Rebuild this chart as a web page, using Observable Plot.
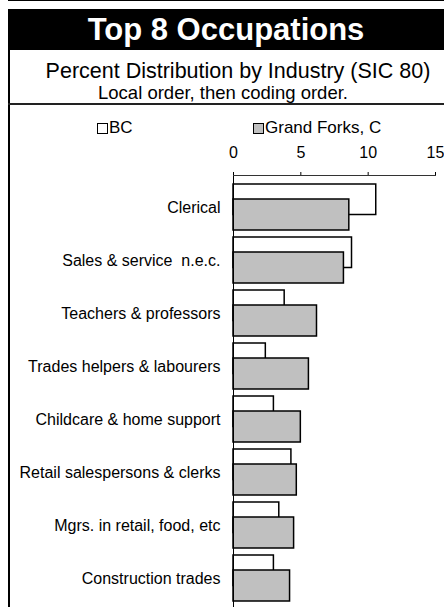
<!DOCTYPE html>
<html>
<head>
<meta charset="utf-8">
<script src="https://cdn.jsdelivr.net/npm/d3@7"></script>
<script src="https://cdn.jsdelivr.net/npm/@observablehq/plot@0.6"></script>
<style>
  html, body { margin: 0; padding: 0; background: #fff; }
  #wrap { position: relative; width: 444px; height: 607px; overflow: hidden; background: #fff;
          font-family: "Liberation Sans", Arial, sans-serif; color: #000; }
  .abs { position: absolute; }
  #topline { left: 8px; top: 0; width: 436px; height: 1px; background: #000; }
  #band { left: 8px; top: 9px; width: 436px; height: 41px; background: #000; color: #fff;
          font-weight: bold; font-size: 31px; line-height: 41px; text-align: center; }
  #leftline { left: 8px; top: 9px; width: 1.5px; height: 600px; background: #000; }
  #sub1 { left: 20px; width: 436px; top: 59px; font-size: 21.5px; line-height: 24px; text-align: center; white-space: nowrap; }
  #sub2 { left: 5px; width: 436px; top: 82px; font-size: 18.5px; line-height: 22px; text-align: center; white-space: nowrap; }
  #subline { left: 8px; top: 103px; width: 436px; height: 1.5px; background: #222; }
  .leg { top: 119px; font-size: 17px; line-height: 18px; white-space: nowrap; }
  .sw { display: inline-block; width: 9px; height: 9px; border: 1.5px solid #000; vertical-align: -1px; margin-right: 1px; }
  #chart { left: 0; top: 140px; }
  #chart svg { white-space: pre; }
</style>
</head>
<body>
<div id="wrap">
  <div id="topline" class="abs"></div>
  <div id="band" class="abs">Top 8 Occupations</div>
  <div id="leftline" class="abs"></div>
  <div id="sub1" class="abs">Percent Distribution by Industry (SIC 80)</div>
  <div id="sub2" class="abs">Local order, then coding order.</div>
  <div id="subline" class="abs"></div>
  <div id="leg1" class="abs leg" style="left:97px"></div>
  <div id="leg2" class="abs leg" style="left:253px"></div>
  <div id="chart" class="abs"></div>
</div>
<script>
const categories = [
  "Clerical",
  "Sales & service  n.e.c.",
  "Teachers & professors",
  "Trades helpers & labourers",
  "Childcare & home support",
  "Retail salespersons & clerks",
  "Mgrs. in retail, food, etc",
  "Construction trades"
];
const bcValues = [10.6, 8.8, 3.8, 2.4, 3.0, 4.3, 3.4, 3.0];
const grandForksValues = [8.6, 8.2, 6.2, 5.6, 5.0, 4.7, 4.5, 4.2];
const seriesNames = ["BC", "Grand Forks, C"];
const seriesColors = ["#ffffff", "#c0c0c0"];
const xTicks = [0, 5, 10, 15];

const data = categories.map((c, i) => ({cat: c, bc: bcValues[i], gf: grandForksValues[i]}));

// legend
[document.getElementById("leg1"), document.getElementById("leg2")].forEach((el, i) => {
  const sw = document.createElement("span");
  sw.className = "sw";
  sw.style.background = seriesColors[i];
  el.appendChild(sw);
  el.appendChild(document.createTextNode(seriesNames[i]));
});

const chart = Plot.plot({
  width: 444,
  height: 473,
  marginLeft: 233,
  marginRight: 9,
  marginTop: 35,
  marginBottom: 3,
  style: {fontFamily: "'Liberation Sans', Arial, sans-serif", fontSize: "16px", color: "#000", background: "transparent", overflow: "visible"},
  x: {domain: [0, 15], axis: "top", ticks: xTicks, tickSize: 4, tickPadding: 14, label: null},
  y: {domain: categories, paddingInner: 7 / 53.5, paddingOuter: 5 / 53.5, tickSize: 0, tickPadding: 13, label: null},
  marks: [
    Plot.barX(data, {y: "cat", x: "bc", fill: seriesColors[0], stroke: "#000", strokeWidth: 1.5, insetBottom: 15.5}),
    Plot.barX(data, {y: "cat", x: "gf", fill: seriesColors[1], stroke: "#000", strokeWidth: 1.5, insetTop: 15}),
    Plot.ruleX([0], {stroke: "#000", strokeWidth: 1}),
    Plot.frame({anchor: "top", stroke: "#333", strokeWidth: 1})
  ]
});
document.getElementById("chart").appendChild(chart);
</script>
</body>
</html>
